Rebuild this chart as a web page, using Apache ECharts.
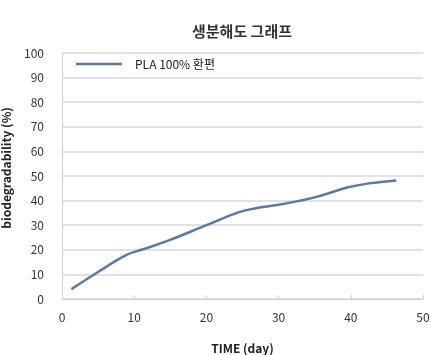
<!DOCTYPE html>
<html>
<head>
<meta charset="utf-8">
<script src="https://cdn.jsdelivr.net/npm/echarts@6/dist/echarts.min.js"></script>
<style>html,body{margin:0;padding:0;background:#fff}#c{width:431px;height:355px}</style>
</head>
<body>
<div id="c"></div>
<script>
var titleText = '생분해도 그래프';
var seriesName = 'PLA 100% 환편';
var days = [1.3, 5, 9, 11, 14.5, 20, 24.5, 26.5, 30, 33, 35.5, 39.5, 42.5, 46.3];
var values = [4, 11, 18, 20, 23.5, 30, 35.3, 36.7, 38.3, 40, 41.7, 45.3, 47, 48.2];
var xTicks = [0, 10, 20, 30, 40, 50];
var yTicks = [0, 10, 20, 30, 40, 50, 60, 70, 80, 90, 100];

var font = '"Noto Sans CJK KR", "Noto Sans", sans-serif';
var lineColor = '#5a79a3';
var chart = echarts.init(document.getElementById('c'), null, {renderer: 'canvas'});
chart.setOption({
  animation: false,
  backgroundColor: '#fff',
  textStyle: {fontFamily: font},
  title: {
    text: titleText, left: 237, top: 19, textAlign: 'center',
    textStyle: {fontSize: 15, fontWeight: 'bold', color: '#333', fontFamily: font}
  },
  legend: {
    left: 71, top: 53, itemWidth: 46, itemHeight: 14, itemGap: 10,
    icon: 'path://M0,6 L46,6 L46,8.5 L0,8.5 Z',
    textStyle: {fontSize: 12, color: '#222', fontFamily: font, padding: [0, 0, 0, 8]},
    data: [seriesName]
  },
  grid: {left: 62, right: 8, top: 53, bottom: 56, containLabel: false, outerBoundsMode: 'none'},
  xAxis: {
    type: 'value', min: xTicks[0], max: xTicks[xTicks.length - 1], interval: 10,
    name: 'TIME (day)', nameLocation: 'middle', nameGap: 43,
    nameTextStyle: {fontSize: 12, fontWeight: 'bold', color: '#222', fontFamily: font},
    axisLine: {show: true, lineStyle: {color: '#d0d0d0', width: 1}},
    axisTick: {show: true, inside: true, length: 4, lineStyle: {color: '#d0d0d0'}},
    axisLabel: {fontSize: 12, color: '#333', margin: 12, fontFamily: font},
    splitLine: {show: false}
  },
  yAxis: {
    type: 'value', min: yTicks[0], max: yTicks[yTicks.length - 1], interval: 10,
    name: 'biodegradability (%)', nameLocation: 'middle', nameGap: 50, nameRotate: 90,
    nameTextStyle: {fontSize: 12, fontWeight: 'bold', color: '#222', fontFamily: font, padding: [0, 0, 0, 16]},
    axisLine: {show: true, lineStyle: {color: '#d0d0d0', width: 1}},
    axisTick: {show: false},
    axisLabel: {fontSize: 12, color: '#333', margin: 18, fontFamily: font, padding: [8, 0, 0, 0]},
    splitLine: {show: true, lineStyle: {color: '#d9d9d9', width: 1.5}}
  },
  series: [{
    name: seriesName, type: 'line', smooth: 0.4, showSymbol: false, symbol: 'none',
    lineStyle: {color: lineColor, width: 2.5}, itemStyle: {color: lineColor},
    data: days.map(function (d, i) { return [d, values[i]]; })
  }]
});
</script>
</body>
</html>
